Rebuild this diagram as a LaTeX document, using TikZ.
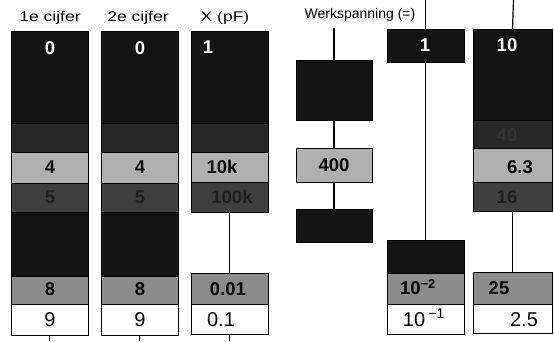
\documentclass[tikz,border=0pt]{standalone}
\usepackage{fontspec}
\setmainfont{Liberation Sans}
\usepackage{graphicx}
\definecolor{cblack}{HTML}{141414}
\definecolor{cdark}{HTML}{282828}
\definecolor{clight}{HTML}{B0B0B0}
\definecolor{cdgray}{HTML}{404040}
\definecolor{cmid}{HTML}{8C8C8C}
\definecolor{ctxtd}{HTML}{1E1E1E}
\definecolor{cfaint}{HTML}{363636}
\begin{document}
\begin{tikzpicture}[x=1pt,y=-1pt,
  band/.style={draw=black, line width=0.8pt, anchor=north west, inner sep=0pt, outer sep=0pt},
  hdr/.style={anchor=base, inner sep=0pt, font=\fontsize{14}{15}\selectfont},
  lab/.style={anchor=base, inner sep=0pt, font=\fontsize{18.5}{19}\selectfont\bfseries},
  wlab/.style={lab, text=white},
  dlab/.style={lab, text=ctxtd},
  blab/.style={anchor=base, inner sep=0pt, font=\fontsize{20}{21}\selectfont},
  conn/.style={draw=black, line width=1.2pt}]
\useasboundingbox (0,0) rectangle (554,341);
% headers
\node[hdr] (h1) at (50,21) {\scalebox{1.25}[1]{1e cijfer}};
\node[hdr] (h2) at (138,21) {\scalebox{1.25}[1]{2e cijfer}};
\node[hdr] (h3) at (225,21) {\scalebox{1.25}[1]{X (pF)}};
\node[hdr] (h4) at (360,18) {Werkspanning (=)};
% column 1
\node[band, fill=cblack, minimum width=77pt, minimum height=92pt] (a0) at (11,31) {};
\node[band, fill=cdark, minimum width=77pt, minimum height=29pt] (a3) at (11,123) {};
\node[band, fill=clight, minimum width=77pt, minimum height=31pt] (a4) at (11,152) {};
\node[band, fill=cdgray, minimum width=77pt, minimum height=29pt] (a5) at (11,183) {};
\node[band, fill=cblack, minimum width=77pt, minimum height=64pt] (a6) at (11,212) {};
\node[band, fill=cmid, minimum width=77pt, minimum height=28pt] (a8) at (11,276) {};
\node[band, fill=white, minimum width=77pt, minimum height=31pt] (a9) at (11,304) {};
% column 2
\node[band, fill=cblack, minimum width=77pt, minimum height=92pt] (b0) at (101,31) {};
\node[band, fill=cdark, minimum width=77pt, minimum height=29pt] (b3) at (101,123) {};
\node[band, fill=clight, minimum width=77pt, minimum height=31pt] (b4) at (101,152) {};
\node[band, fill=cdgray, minimum width=77pt, minimum height=29pt] (b5) at (101,183) {};
\node[band, fill=cblack, minimum width=77pt, minimum height=64pt] (b6) at (101,212) {};
\node[band, fill=cmid, minimum width=77pt, minimum height=28pt] (b8) at (101,276) {};
\node[band, fill=white, minimum width=77pt, minimum height=31pt] (b9) at (101,304) {};
% column 3
\node[band, fill=cblack, minimum width=77pt, minimum height=92pt] (c0) at (191,31) {};
\node[band, fill=cdark, minimum width=77pt, minimum height=29pt] (c3) at (191,123) {};
\node[band, fill=clight, minimum width=77pt, minimum height=30pt] (c4) at (191,152) {};
\node[band, fill=cdgray, minimum width=77pt, minimum height=30pt] (c5) at (191,182) {};
\node[band, fill=cmid, minimum width=77pt, minimum height=31pt] (c8) at (191,273) {};
\node[band, fill=white, minimum width=77pt, minimum height=30pt] (c9) at (191,304) {};
% column 4
\coordinate (d0) at (334,28);
\node[band, fill=cblack, minimum width=76pt, minimum height=60pt] (d1) at (296,60) {};
\node[band, fill=clight, minimum width=76pt, minimum height=34pt] (d2) at (296,148) {};
\node[band, fill=cblack, minimum width=76pt, minimum height=33pt] (d3) at (296,209) {};
% column 5
\coordinate (e0) at (425.5,0);
\node[band, fill=cblack, minimum width=77pt, minimum height=33pt] (e1) at (387,29) {};
\node[band, fill=cblack, minimum width=77pt, minimum height=33pt] (e2) at (387,240) {};
\node[band, fill=cmid, minimum width=77pt, minimum height=31pt] (e3) at (387,273) {};
\node[band, fill=white, minimum width=77pt, minimum height=30pt] (e4) at (387,304) {};
% column 6
\coordinate (f00) at (513.5,0);
\node[band, fill=cblack, minimum width=79pt, minimum height=91pt] (f0) at (473,29) {};
\node[band, fill=cdark, minimum width=79pt, minimum height=28pt] (f1) at (473,120) {};
\node[band, fill=clight, minimum width=79pt, minimum height=34pt] (f2) at (473,148) {};
\node[band, fill=cdgray, minimum width=79pt, minimum height=29pt] (f3) at (473,182) {};
\node[band, fill=cmid, minimum width=79pt, minimum height=32pt] (f4) at (473,272) {};
\node[band, fill=white, minimum width=79pt, minimum height=29pt] (f5) at (473,304) {};
% bottom stubs
\coordinate (as) at (49.5,341);
\coordinate (bs) at (139.5,341);
\coordinate (cs) at (229.5,341);
% connectors
\draw[conn] (a9.south) -- (as);
\draw[conn] (b9.south) -- (bs);
\draw[conn] (c9.south) -- (cs);
\draw[conn] (c5.south) -- (c8.north);
\draw[conn] (d0) -- (d1.north);
\draw[conn] (d1.south) -- (d2.north);
\draw[conn] (d2.south) -- (d3.north);
\draw[conn] (e0) -- (e1.north);
\draw[conn] (e1.south) -- (e2.north);
\draw[conn] (f00) -- (f0.north);
\draw[conn] (f3.south) -- (f4.north);
% labels column 1
\node[wlab] (ta0) at (50,54.6) {0};
\node[lab] (ta4) at (50,173.6) {4};
\node[dlab] (ta5) at (50,203.6) {5};
\node[lab] (ta8) at (50,295.6) {8};
\node[blab] (ta9) at (50,326.2) {9};
% labels column 2
\node[wlab] (tb0) at (140,54.6) {0};
\node[lab] (tb4) at (140,173.6) {4};
\node[dlab] (tb5) at (140,203.6) {5};
\node[lab] (tb8) at (140,295.6) {8};
\node[blab] (tb9) at (140,326.2) {9};
% labels column 3
\node[wlab] (tc0) at (208,53.6) {1};
\node[lab] (tc4) at (222,173.6) {10k};
\node[dlab] (tc5) at (232,203.6) {100k};
\node[lab] (tc8) at (228,295.6) {0.01};
\node[blab] (tc9) at (221,326.2) {0.1};
% column 4
\node[lab] (td2) at (334,171.6) {400};
% column 5
\node[wlab] (te1) at (425,51.6) {1};
\node[lab] (te3) at (418,294.6) {10\textsuperscript{−2}};
\node[blab] (te4) at (424,326.2) {10\,\textsuperscript{−1}};
% column 6
\node[wlab] (tf0) at (507,51.6) {10};
\node[lab, text=cfaint] (tf1) at (507,141.6) {40};
\node[lab] (tf2) at (520,173.6) {6.3};
\node[dlab] (tf3) at (507,203.6) {16};
\node[lab] (tf4) at (499,294.6) {25};
\node[blab] (tf5) at (524,326.2) {2.5};
\end{tikzpicture}
\end{document}
